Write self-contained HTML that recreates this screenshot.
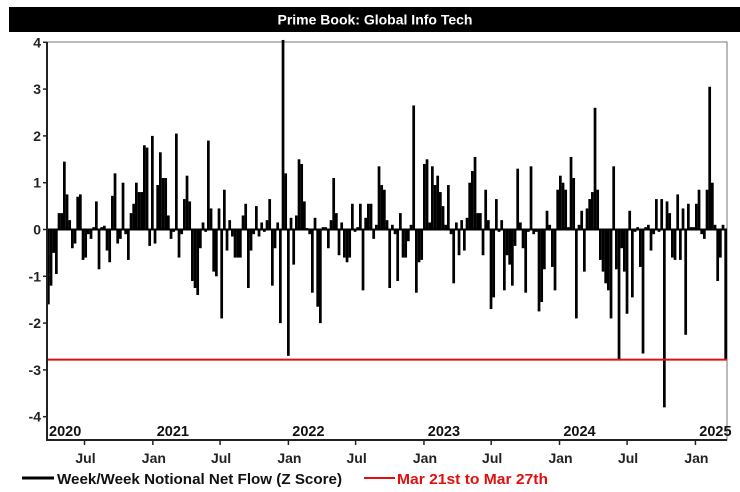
<!DOCTYPE html>
<html><head><meta charset="utf-8"><style>
html,body{margin:0;padding:0;background:#fff;}
body{width:740px;height:487px;overflow:hidden;font-family:"Liberation Sans",sans-serif;}
</style></head><body>
<svg id="chart" width="740" height="487" xmlns="http://www.w3.org/2000/svg" font-family="Liberation Sans, sans-serif">
<rect x="9" y="7" width="731" height="25" fill="#000"/>
<text x="375" y="24.5" fill="#fff" font-size="14" font-weight="bold" text-anchor="middle">Prime Book: Global Info Tech</text>
<g id="plot"></g>
<g>
<line x1="22" y1="478" x2="54" y2="478" stroke="#000" stroke-width="3"/>
<text x="57" y="484" font-size="15" font-weight="bold" fill="#111" textLength="285" lengthAdjust="spacingAndGlyphs">Week/Week Notional Net Flow (Z Score)</text>
<line x1="364" y1="478" x2="395" y2="478" stroke="#e01010" stroke-width="2"/>
<text x="397" y="484" font-size="15" font-weight="bold" fill="#e01010" textLength="151" lengthAdjust="spacingAndGlyphs">Mar 21st to Mar 27th</text>
</g>
</svg>
<script>
const flowValues = [
-1.6,-1.2,-0.5,-0.95,0.35,0.35,1.45,0.75,0.2,-0.4,-0.3,0.7,0.75,-0.65,-0.6,-0.1,-0.2,0.05,0.6,-0.85,0.05,0.08,-0.45,-0.7,0.72,1.2,-0.3,-0.2,1.0,-0.1,-0.65,0.35,0.55,1.0,0.8,0.8,1.8,1.75,-0.35,2.0,-0.3,0.95,1.65,
1.1,1.1,0.3,-0.2,-0.05,2.05,-0.6,-0.1,0.65,1.15,0.6,-1.1,-1.25,-1.4,-0.4,0.15,-0.05,1.9,0.45,-0.9,-1.0,0.45,-1.9,0.85,-0.45,0.2,-0.15,-0.6,-0.6,-0.6,0.3,0.55,-1.25,-0.45,-0.1,0.5,-0.15,0.15,-0.05,0.2,0.65,-1.2,-0.4,
0.15,-2.0,4.05,1.2,-2.7,0.25,-0.75,0.3,1.5,1.4,0.6,0.03,-0.1,-1.35,0.25,-1.65,-2.0,0.05,0.05,-0.4,0.2,1.1,0.35,-0.55,0.15,-0.6,-0.7,-0.6,0.55,-0.05,0.05,0.55,-1.3,0.25,0.55,0.55,-0.2,0.1,1.35,0.95,0.85,0.2,-1.25,
0.1,-0.1,-1.1,0.35,-0.6,-0.6,-0.25,0.1,2.65,-1.35,-0.7,-0.65,1.4,1.5,0.15,1.35,0.95,1.15,0.8,0.5,0.1,0.95,-0.1,-1.15,0.15,-0.55,0.2,-0.45,0.25,1.0,1.25,1.55,0.35,0.35,-0.55,0.85,0.2,-1.7,-1.45,0.65,-0.05,0.2,-1.3,
-0.55,-0.75,-1.2,-0.35,1.3,0.15,-0.4,-1.35,-0.05,1.35,-0.1,-0.05,-1.75,-1.55,-0.85,0.4,0.1,-0.8,-1.3,0.85,1.15,1.0,0.85,0.05,1.55,1.1,-1.9,0.1,0.4,-0.9,0.45,0.65,0.8,2.6,0.85,-0.65,-0.9,-1.15,-1.3,-1.9,1.35,-0.85,-2.8,
-0.4,-0.9,-1.8,0.4,-1.45,-0.05,0.05,-0.8,-2.65,0.05,0.1,-0.45,-0.1,0.65,-0.05,0.65,-3.8,0.6,0.35,-0.6,-0.65,0.75,-0.65,0.45,-2.25,0.55,0.05,0.05,0.55,0.85,-0.1,-0.2,0.85,3.05,1.0,0.1,-1.1,-0.6,0.1,-2.78
];
const yTicks = [4,3,2,1,0,-1,-2,-3,-4];
const monthTickDates = ["2020-07-01","2021-01-01","2021-07-01","2022-01-01","2022-07-01","2023-01-01","2023-07-01","2024-01-01","2024-07-01","2025-01-01"];
const monthTickLabels = ["Jul","Jan","Jul","Jan","Jul","Jan","Jul","Jan","Jul","Jan"];
const yearLabels = ["2020","2021","2022","2023","2024","2025"];
const yearDates = ["2020-03-22","2021-01-06","2022-01-06","2023-01-06","2024-01-06","2025-01-06"];
const thresholdValue = -2.78;

const NS="http://www.w3.org/2000/svg";
const L=47,R=727,T=42,B=440;
const d0=Date.parse("2020-03-22"), d1=Date.parse("2025-03-27");
function xDate(s){return L+(Date.parse(s)-d0)/(d1-d0)*(R-L);}
function yVal(v){return 229.5-v*46.8;}
const g=document.getElementById('plot');
function mk(tag,attrs){const e=document.createElementNS(NS,tag);for(const k in attrs)e.setAttribute(k,attrs[k]);g.appendChild(e);return e;}

let f=mk('rect',{x:L,y:T,width:R-L,height:B-T,fill:'none',stroke:'#777','stroke-width':1});



const bw=(R-L)/flowValues.length;
flowValues.forEach((v,i)=>{
  const x=L+i*bw, y0=yVal(0), y1=yVal(v);
  const r=mk('rect',{x:x.toFixed(2),y:Math.min(y0,y1).toFixed(2),width:(bw*1.02).toFixed(2),height:Math.max(1,Math.abs(y1-y0)).toFixed(2),fill:'#000'});
  
  
});
let z=mk('line',{x1:L,x2:R,y1:yVal(0),y2:yVal(0),stroke:'#000','stroke-width':2});



let th=mk('line',{x1:L,x2:R,y1:yVal(thresholdValue),y2:yVal(thresholdValue),stroke:'#e01010','stroke-width':2});



let ya=mk('line',{x1:L,x2:L,y1:T,y2:B,stroke:'#222','stroke-width':2});


let xa=mk('line',{x1:L-1,x2:R,y1:B,y2:B,stroke:'#222','stroke-width':2});



yTicks.forEach(v=>{
  const y=yVal(v);
  const t=mk('line',{x1:L-4,x2:L,y1:y,y2:y,stroke:'#222','stroke-width':1.5});
  
  
  const tx=mk('text',{x:L-6,y:y+5,'font-size':14,'font-weight':'bold','text-anchor':'end',fill:'#222'});
  tx.textContent=v;
  
  
});
monthTickDates.forEach((d,i)=>{
  const x=xDate(d);
  const t=mk('line',{x1:x,x2:x,y1:B,y2:B+5,stroke:'#222','stroke-width':1.5});
  
  
  const tx=mk('text',{x:x+1,y:463,'font-size':14,'font-weight':'bold','text-anchor':'middle',fill:'#222'});
  tx.textContent=monthTickLabels[i];
  
  
});
yearLabels.forEach((s,i)=>{
  const tx=mk('text',{x:xDate(yearDates[i])+2,y:436,'font-size':14.5,'font-weight':'bold',fill:'#111'});
  tx.textContent=s;
  
  
});
</script>
</body></html>
